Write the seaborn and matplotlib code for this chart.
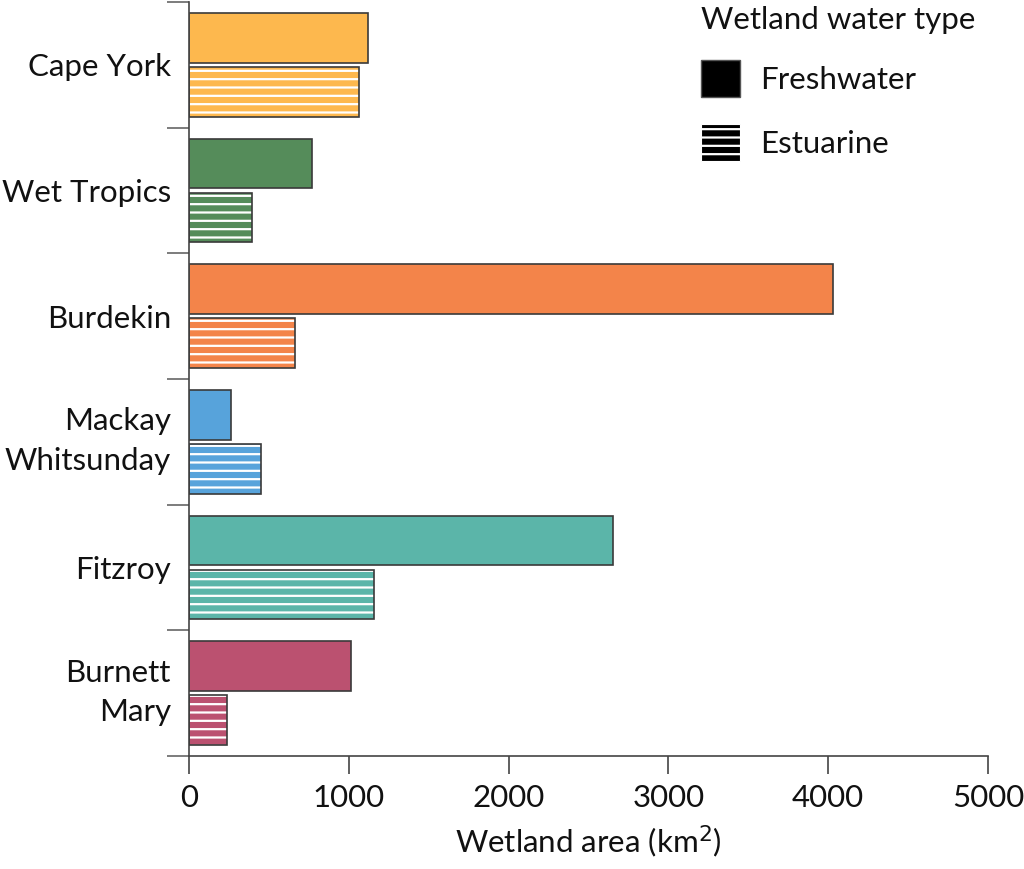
import numpy as np
import pandas as pd
import matplotlib
matplotlib.use("Agg")
import matplotlib.pyplot as plt
import matplotlib.transforms as mtransforms
import seaborn as sns
from matplotlib.patches import Patch, Rectangle

regions = ["Cape York", "Wet Tropics", "Burdekin", "Mackay\nWhitsunday", "Fitzroy", "Burnett\nMary"]
freshwater = [1120, 770, 4030, 263, 2653, 1014]
estuarine = [1064, 394, 663, 451, 1158, 238]
region_colors = ["#FDB84E", "#558C5A", "#F3844A", "#57A3DB", "#5BB5A9", "#BB5170"]
water_types = ["Freshwater", "Estuarine"]
x_ticks = [0, 1000, 2000, 3000, 4000, 5000]

df = pd.DataFrame({
    "region": regions * 2,
    "type": [water_types[0]] * len(regions) + [water_types[1]] * len(regions),
    "area": freshwater + estuarine,
})

sns.set_theme(style="ticks")
plt.rcParams["font.family"] = ["Lato", "DejaVu Sans"]
plt.rcParams["hatch.linewidth"] = 1.6
plt.rcParams["text.color"] = "#111111"
plt.rcParams["xtick.labelcolor"] = "#111111"
plt.rcParams["ytick.labelcolor"] = "#111111"
plt.rcParams["axes.labelcolor"] = "#111111"

FS = 22.5

fig = plt.figure(figsize=(10.24, 8.69), dpi=100)
ax = fig.add_axes([0.1846, 0.13, 0.7802, 0.8677])

sns.barplot(data=df, y="region", x="area", hue="type", orient="h",
            width=0.86, gap=0.08, palette=["#888888", "#888888"],
            legend=False, ax=ax)

edge = "#3a3a3a"
for k, cont in enumerate(ax.containers):
    for i, bar in enumerate(cont):
        bar.set_facecolor(region_colors[i])
        if k == 0:
            bar.set_edgecolor(edge)
            bar.set_linewidth(1.2)
        else:
            # white hatch lines, then a dark outline drawn on top
            bar.set_edgecolor("white")
            bar.set_linewidth(0)
            bar.set_hatch("--")
            ax.add_patch(Rectangle(bar.get_xy(), bar.get_width(), bar.get_height(),
                                   fill=False, edgecolor=edge, linewidth=1.2, zorder=3))

ax.set_xlim(0, 5000)
ax.set_ylim(len(regions) - 0.5, -0.5)
ax.set_xticks(x_ticks)
ax.set_xticklabels([str(t) for t in x_ticks], fontsize=FS)
ax.set_yticks(range(len(regions)))
ax.set_yticklabels(regions, fontsize=FS, ha="right", multialignment="right",
                   linespacing=1.5)
ax.tick_params(axis="y", which="major", length=0, pad=13)
ax.set_yticks(np.arange(-0.5, len(regions)), minor=True)
ax.tick_params(axis="y", which="minor", length=16, width=1.2, color="#666666")
ax.tick_params(axis="x", length=13, width=1.2, color="#444444", pad=7)

# two-line labels sit a little higher in the original
lift = mtransforms.ScaledTranslation(0, 0.09, fig.dpi_scale_trans)
for lab in ax.get_yticklabels():
    if "\n" in lab.get_text():
        lab.set_transform(lab.get_transform() + lift)

ax.set_xlabel("Wetland area (km$^2$)", fontsize=FS, labelpad=8)
ax.set_ylabel("")
for s in ["top", "right"]:
    ax.spines[s].set_visible(False)
for s in ["left", "bottom"]:
    ax.spines[s].set_color("#444444")
    ax.spines[s].set_linewidth(1.2)

handles = [Patch(facecolor="black", edgecolor="#555555", linewidth=1),
           Patch(facecolor="black", edgecolor="white", linewidth=0.8, hatch="--")]
leg = ax.legend(handles, water_types, title="Wetland water type", loc="upper left",
                bbox_to_anchor=(0.613, 1.024), frameon=False, fontsize=FS,
                title_fontsize=FS, handlelength=1.25, handleheight=1.45,
                handletextpad=0.65, labelspacing=0.85, alignment="left",
                borderpad=0.2)

fig.savefig("out.png", dpi=100)
